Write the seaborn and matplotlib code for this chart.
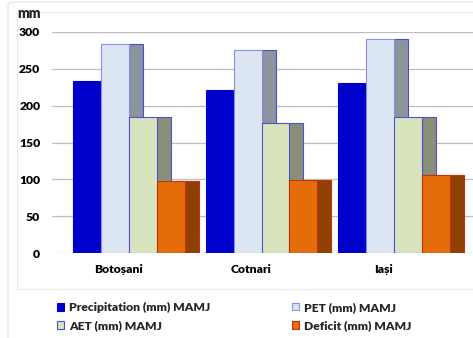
import matplotlib
matplotlib.use("Agg")
import matplotlib.pyplot as plt
from matplotlib.patches import Rectangle, FancyBboxPatch, Patch
import pandas as pd
import seaborn as sns

# --- data -------------------------------------------------------------
sites = ["Botoșani", "Cotnari", "Iași"]
series = ["Precipitation (mm) MAMJ", "PET (mm) MAMJ", "AET (mm) MAMJ", "Deficit (mm) MAMJ"]
precipitation = [233, 221, 231]
pet = [284, 276, 291]
aet = [185, 177, 185]
deficit = [98, 99, 106]
y_ticks = [0, 50, 100, 150, 200, 250, 300]

# --- styling ----------------------------------------------------------
front_colors = ["#0000CC", "#DCE6F2", "#D7E4BD", "#E46C0A"]
side_colors = ["#00007A", "#8C949C", "#8A9078", "#8F4003"]
edge_colors = ["#0000CC", "#8C8CE8", "#5050D8", "#C8320A"]
side_edges = ["#0000CC", "#4A4AD4", "#5050D8", "#C8320A"]
FS = 8.7
WEIGHT = 800

sns.set_theme(style="white")
plt.rcParams["font.family"] = ["Lato", "DejaVu Sans"]
plt.rcParams["font.weight"] = WEIGHT

W, H = 473, 338
fig = plt.figure(figsize=(W / 100, H / 100), dpi=100)

def fx(px):
    return px / W

def fy(py):
    return 1 - py / H

# chart frames
fig.patches.append(FancyBboxPatch((fx(8), fy(345)), fx(480) - fx(8), fy(2) - fy(345),
                                  boxstyle="round,pad=0,rounding_size=0.012",
                                  transform=fig.transFigure, fill=False,
                                  edgecolor="#E4E4E4", linewidth=0.8, zorder=0))
fig.patches.append(Rectangle((fx(17), fy(289)), fx(480) - fx(17), fy(12) - fy(289),
                             transform=fig.transFigure, fill=False,
                             edgecolor="#EBEBEB", linewidth=0.8, zorder=0))

ax = fig.add_axes([fx(52), fy(253), 1 - fx(52), fy(32) - fy(253)])
ax.set_facecolor("none")

df = pd.DataFrame({
    "site": sites * 4,
    "series": [s for s in series for _ in sites],
    "value": precipitation + pet + aet + deficit,
})

sns.barplot(data=df, x="site", y="value", hue="series", order=sites,
            hue_order=series, palette=front_colors, saturation=1,
            width=0.845, legend=False, ax=ax, zorder=3)

# front faces get their outlines, and a darker side face is drawn behind
for i, cont in enumerate(ax.containers):
    for p in cont.patches:
        p.set_edgecolor(edge_colors[i])
        p.set_linewidth(0.8)
        p.set_zorder(3)
        x, w, h = p.get_x(), p.get_width(), p.get_height()
        ax.add_patch(Rectangle((x + w, 0), w * 0.5, h, facecolor=side_colors[i],
                               edgecolor=side_edges[i], linewidth=0.8, zorder=2))

ax.set_xlim(-0.581, 2.596)
ax.set_ylim(0, 300)
ax.set_yticks(y_ticks)
ax.set_yticklabels([str(t) for t in y_ticks], fontsize=FS, fontweight=WEIGHT)
ax.set_xticks([i - 0.08 for i in range(len(sites))])
ax.set_xticklabels(sites, fontsize=FS, fontweight=WEIGHT)
ax.tick_params(axis="both", length=0, colors="#000000")
ax.tick_params(axis="y", pad=8.5)
ax.tick_params(axis="x", pad=8)
ax.set_xlabel("")
ax.set_ylabel("")
for s in ax.spines.values():
    s.set_visible(False)
ax.yaxis.grid(True, color="#BFBFBF", linewidth=0.9, zorder=0)
ax.set_axisbelow(True)

fig.text(fx(17), fy(14), "mm", fontsize=FS + 1.2, fontweight=WEIGHT, va="center", ha="left")

handles = [Patch(facecolor=front_colors[i], edgecolor=edge_colors[i], linewidth=0.8)
           for i in range(4)]
leg_kw = dict(frameon=False, handlelength=0.58, handleheight=0.58,
              handletextpad=0.4, labelspacing=0.6, borderpad=0, borderaxespad=0,
              loc="upper left", prop={"weight": WEIGHT, "size": FS})
leg1 = fig.legend([handles[0], handles[2]], [series[0], series[2]],
                  bbox_to_anchor=(fx(57), fy(302)), **leg_kw)
leg2 = fig.legend([handles[1], handles[3]], [series[1], series[3]],
                  bbox_to_anchor=(fx(292), fy(302)), **leg_kw)

fig.savefig("out.png", dpi=100)
